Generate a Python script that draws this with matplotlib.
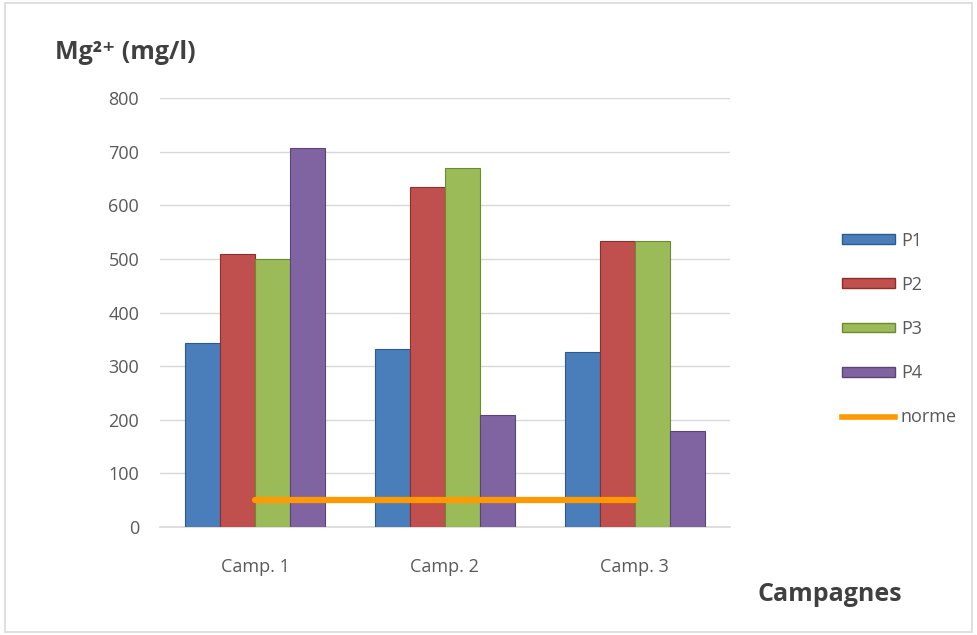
import matplotlib
matplotlib.use("Agg")
import matplotlib.pyplot as plt
import numpy as np
from matplotlib.patches import Rectangle
from matplotlib.lines import Line2D

categories = ["Camp. 1", "Camp. 2", "Camp. 3"]
series_names = ["P1", "P2", "P3", "P4"]
P1 = [343, 332, 326]
P2 = [509, 634, 534]
P3 = [500, 670, 534]
P4 = [707, 209, 180]
norme = [50, 50, 50]
yticks = [0, 100, 200, 300, 400, 500, 600, 700, 800]

colors = ["#4A7EBB", "#C0504D", "#9BBB59", "#8064A2"]
edges = ["#2C5A8F", "#8C2E2C", "#6B8A35", "#5A4478"]
norme_color = "#FF9900"

plt.rcParams['font.family'] = ['Open Sans', 'DejaVu Sans']
fig = plt.figure(figsize=(9.77, 6.35), dpi=100)
ax = fig.add_axes([0.1638, 0.170, 0.5832, 0.6756])

x = np.arange(len(categories))
w = 0.184
data = [P1, P2, P3, P4]
for i, vals in enumerate(data):
    ax.bar(x + (i - 1.5) * w, vals, width=w, color=colors[i],
           edgecolor=edges[i], linewidth=0.8, zorder=3, label=series_names[i])
ax.plot(x, norme, color=norme_color, linewidth=4.5, solid_capstyle='round',
        zorder=4, label="norme")

ax.set_xlim(-0.5, 2.5)
ax.set_ylim(0, 800)
ax.set_yticks(yticks)
ax.set_xticks(x)
ax.set_xticklabels(categories)
ax.grid(axis='y', color='#D9D9D9', linewidth=1, zorder=0)
ax.set_axisbelow(True)
for s in ['top', 'right', 'left']:
    ax.spines[s].set_visible(False)
ax.spines['bottom'].set_color('#D9D9D9')
ax.spines['bottom'].set_linewidth(1.2)
ax.tick_params(axis='both', length=0, colors='#595959', labelsize=13)
ax.tick_params(axis='y', pad=15)
ax.tick_params(axis='x', pad=22)

fig.text(0.056, 0.918, "Mg²⁺ (mg/l)", fontsize=18, fontweight='bold',
         color='#404040', ha='left', va='center',
         family=['Open Sans', 'DejaVu Sans'])
fig.text(0.775, 0.063, "Campagnes", fontsize=18, fontweight='bold',
         color='#404040', ha='left', va='center')

handles = [Rectangle((0, 0), 1, 1, facecolor=colors[i], edgecolor=edges[i]) for i in range(4)]
handles.append(Line2D([0], [0], color=norme_color, linewidth=4))
leg = fig.legend(handles, series_names + ["norme"], loc='center left',
                 bbox_to_anchor=(0.862, 0.482), frameon=False, fontsize=13,
                 borderpad=0, borderaxespad=0,
                 labelspacing=1.45, handlelength=2.95, handleheight=0.45,
                 handletextpad=0.3, labelcolor='#595959')

border = Rectangle((0.005, 0.005), 0.99, 0.99, transform=fig.transFigure,
                   fill=False, edgecolor='#D9D9D9', linewidth=1.2)
fig.patches.append(border)

fig.savefig("out.png", dpi=100)
